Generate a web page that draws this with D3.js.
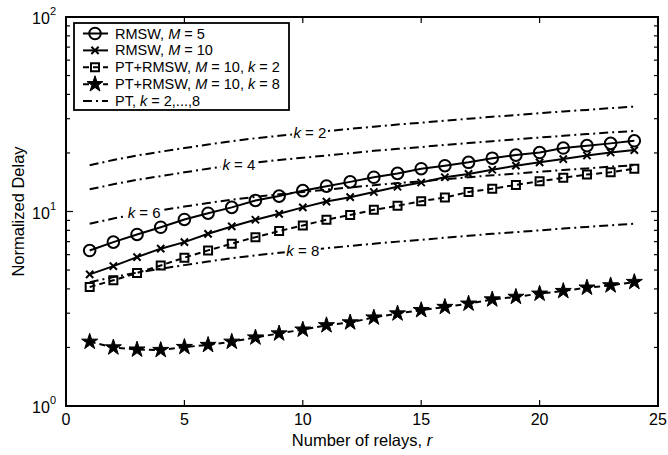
<!DOCTYPE html>
<html>
<head>
<meta charset="utf-8">
<script src="https://cdn.jsdelivr.net/npm/d3@7"></script>
<style>
  body { margin: 0; background: #fff; }
  svg text { font-family: "Liberation Sans", Arial, Helvetica, sans-serif; fill: #000; }
</style>
</head>
<body>
<div id="chart"></div>
<script>
// Data
const relays = d3.range(1, 25);
const rmswM5 = [6.3, 6.96, 7.62, 8.3, 9.1, 9.8, 10.5, 11.4, 12.0, 12.8, 13.5, 14.2,
                15.0, 15.7, 16.6, 17.2, 17.9, 18.8, 19.5, 20.1, 21.2, 21.8, 22.4, 23.1];
const rmswM10 = [4.75, 5.24, 5.83, 6.44, 6.96, 7.68, 8.38, 9.07, 9.73, 10.5, 11.25, 11.85,
                 12.6, 13.4, 14.1, 15.0, 15.6, 16.4, 17.2, 17.9, 18.6, 19.4, 20.1, 20.7];
const ptRmswK2 = [4.09, 4.43, 4.83, 5.28, 5.79, 6.31, 6.83, 7.38, 7.93, 8.48, 9.07, 9.6,
                  10.2, 10.7, 11.3, 11.8, 12.6, 13.1, 13.7, 14.3, 14.9, 15.5, 15.9, 16.6];
const ptRmswK8 = [2.14, 2.0, 1.95, 1.94, 2.01, 2.06, 2.14, 2.25, 2.36, 2.47, 2.6, 2.69,
                  2.85, 2.99, 3.11, 3.23, 3.36, 3.53, 3.64, 3.78, 3.9, 4.06, 4.17, 4.34];
const ptK2 = [17.3, 18.4, 19.4, 20.3, 21.2, 22.1, 23.0, 23.8, 24.5, 25.2, 25.9, 26.6,
              27.3, 28.0, 28.6, 29.3, 30.0, 30.7, 31.3, 32.0, 32.7, 33.3, 34.0, 34.6];
const ptK4 = [13.0, 13.8, 14.55, 15.2, 15.9, 16.6, 17.25, 17.85, 18.4, 18.9, 19.4, 19.95,
              20.5, 21.0, 21.45, 22.0, 22.5, 23.0, 23.5, 24.0, 24.5, 25.0, 25.5, 25.95];
const ptK6 = [8.65, 9.2, 9.7, 10.15, 10.6, 11.05, 11.5, 11.9, 12.25, 12.6, 12.95, 13.3,
              13.65, 14.0, 14.3, 14.65, 15.0, 15.35, 15.65, 16.0, 16.35, 16.65, 17.0, 17.3];
const ptK8 = [4.33, 4.6, 4.85, 5.08, 5.3, 5.53, 5.75, 5.95, 6.13, 6.3, 6.48, 6.65,
              6.83, 7.0, 7.15, 7.33, 7.5, 7.68, 7.83, 8.0, 8.18, 8.33, 8.5, 8.65];

// where the "k = .." labels sit on the PT curves (relay number)
const ptLabels = [
  { k: 2, r: 10.3, values: ptK2 },
  { k: 4, r: 7.3, values: ptK4 },
  { k: 6, r: 3.3, values: ptK6 },
  { k: 8, r: 10.0, values: ptK8 }
];

const xTicks = [0, 5, 10, 15, 20, 25];
const yDecades = [0, 1, 2];

// Plot box
const box = { left: 66, right: 658, top: 17, bottom: 406 };

const svg = d3.select('#chart')
  .append('svg')
  .attr('width', 668)
  .attr('height', 455);

const x = d3.scaleLinear().domain([0, 25]).range([box.left, box.right]);
const y = d3.scaleLog().domain([1, 100]).range([box.bottom, box.top]);

// Ticks (inside, on all four sides)
const tickG = svg.append('g').attr('stroke', '#000').attr('stroke-width', 1.2);
xTicks.forEach(t => {
  tickG.append('line').attr('x1', x(t)).attr('x2', x(t)).attr('y1', box.bottom).attr('y2', box.bottom - 6);
  tickG.append('line').attr('x1', x(t)).attr('x2', x(t)).attr('y1', box.top).attr('y2', box.top + 6);
});
const minorY = [];
[1, 10].forEach(d => d3.range(2, 10).forEach(m => minorY.push(d * m)));
minorY.forEach(v => {
  tickG.append('line').attr('x1', box.left).attr('x2', box.left + 4).attr('y1', y(v)).attr('y2', y(v));
  tickG.append('line').attr('x1', box.right).attr('x2', box.right - 4).attr('y1', y(v)).attr('y2', y(v));
});
yDecades.forEach(e => {
  const v = Math.pow(10, e);
  tickG.append('line').attr('x1', box.left).attr('x2', box.left + 7).attr('y1', y(v)).attr('y2', y(v));
  tickG.append('line').attr('x1', box.right).attr('x2', box.right - 7).attr('y1', y(v)).attr('y2', y(v));
});

// Tick labels
svg.append('g').selectAll('text')
  .data(xTicks)
  .enter().append('text')
  .attr('x', d => x(d))
  .attr('y', box.bottom + 19)
  .attr('text-anchor', 'middle')
  .attr('font-size', 16)
  .text(d => d);

yDecades.forEach(e => {
  const t = svg.append('text')
    .attr('x', box.left - 10)
    .attr('y', y(Math.pow(10, e)) + 7)
    .attr('text-anchor', 'end')
    .attr('font-size', 16);
  t.append('tspan').text('10');
  t.append('tspan').attr('font-size', 11).attr('dy', -9).text(e);
});

// Axis titles
const xt = svg.append('text')
  .attr('x', (box.left + box.right) / 2)
  .attr('y', 446)
  .attr('text-anchor', 'middle')
  .attr('font-size', 16.5);
xt.append('tspan').text('Number of relays,  ');
xt.append('tspan').attr('font-style', 'italic').text('r');

svg.append('text')
  .attr('transform', `translate(24,${(box.top + box.bottom) / 2}) rotate(-90)`)
  .attr('text-anchor', 'middle')
  .attr('font-size', 16.5)
  .text('Normalized Delay');

const line = vals => d3.line()
  .x((d, i) => x(relays[i]))
  .y(d => y(d))(vals);

// PT dash-dot curves
const dashDot = '9,4,2,4';
[ptK2, ptK4, ptK6, ptK8].forEach(vals => {
  svg.append('path')
    .attr('d', line(vals))
    .attr('fill', 'none')
    .attr('stroke', '#000')
    .attr('stroke-width', 2)
    .attr('stroke-dasharray', dashDot);
});

// k labels with white background, placed on the curves
ptLabels.forEach(l => {
  const i = Math.floor(l.r) - 1;
  const f = l.r - Math.floor(l.r);
  const v = Math.exp(Math.log(l.values[i]) * (1 - f) + Math.log(l.values[i + 1]) * f);
  const g = svg.append('g').attr('transform', `translate(${x(l.r)},${y(v)})`);
  g.append('rect').attr('x', -18).attr('y', -8).attr('width', 36).attr('height', 16).attr('fill', '#fff');
  const t = g.append('text').attr('text-anchor', 'middle').attr('y', 5).attr('font-size', 15);
  t.append('tspan').attr('font-style', 'italic').text('k');
  t.append('tspan').text(' = ' + l.k);
});

// Marker generators
const sym = (type, size) => d3.symbol().type(type).size(size)();

const series = [
  { vals: rmswM5, dash: null, marker: 'circle' },
  { vals: rmswM10, dash: null, marker: 'cross' },
  { vals: ptRmswK2, dash: '6,4', marker: 'square' },
  { vals: ptRmswK8, dash: '6,4', marker: 'star' }
];

function drawMarker(g, type) {
  if (type === 'circle') {
    g.append('circle').attr('r', 5.8).attr('fill', 'none').attr('stroke', '#000').attr('stroke-width', 2);
  } else if (type === 'cross') {
    g.append('path').attr('d', sym(d3.symbolTimes, 36)).attr('fill', 'none').attr('stroke', '#000').attr('stroke-width', 2);
  } else if (type === 'square') {
    g.append('path').attr('d', sym(d3.symbolSquare, 64)).attr('fill', 'none').attr('stroke', '#000').attr('stroke-width', 2);
  } else if (type === 'star') {
    g.append('path').attr('d', sym(d3.symbolStar, 80)).attr('fill', '#000').attr('stroke', '#000').attr('stroke-width', 1);
  }
}

series.forEach(s => {
  svg.append('path')
    .attr('d', line(s.vals))
    .attr('fill', 'none')
    .attr('stroke', '#000')
    .attr('stroke-width', 2)
    .attr('stroke-dasharray', s.dash);
  s.vals.forEach((v, i) => {
    const g = svg.append('g').attr('transform', `translate(${x(relays[i])},${y(v)})`);
    drawMarker(g, s.marker);
  });
});

// Plot frame
svg.append('rect')
  .attr('x', box.left).attr('y', box.top)
  .attr('width', box.right - box.left).attr('height', box.bottom - box.top)
  .attr('fill', 'none').attr('stroke', '#000').attr('stroke-width', 2);

// Legend
const legendItems = [
  { marker: 'circle', dash: null, label: [['RMSW, ', 0], ['M', 1], [' = 5', 0]] },
  { marker: 'cross', dash: null, label: [['RMSW, ', 0], ['M', 1], [' = 10', 0]] },
  { marker: 'square', dash: '6,4', label: [['PT+RMSW, ', 0], ['M', 1], [' = 10, ', 0], ['k', 1], [' = 2', 0]] },
  { marker: 'star', dash: '6,4', label: [['PT+RMSW, ', 0], ['M', 1], [' = 10, ', 0], ['k', 1], [' = 8', 0]] },
  { marker: null, dash: dashDot, label: [['PT, ', 0], ['k', 1], [' = 2,...,8', 0]] }
];
const lg = svg.append('g');
lg.append('rect')
  .attr('x', 74).attr('y', 23).attr('width', 215).attr('height', 87)
  .attr('fill', '#fff').attr('stroke', '#000').attr('stroke-width', 1.8);
legendItems.forEach((it, i) => {
  const yy = 33.5 + i * 16.9;
  lg.append('line')
    .attr('x1', 83).attr('x2', 108).attr('y1', yy).attr('y2', yy)
    .attr('stroke', '#000').attr('stroke-width', 2)
    .attr('stroke-dasharray', it.dash);
  if (it.marker) {
    const g = lg.append('g').attr('transform', `translate(95,${yy})`);
    drawMarker(g, it.marker);
  }
  const t = lg.append('text').attr('x', 115).attr('y', yy + 5).attr('font-size', 14.5);
  it.label.forEach(p => t.append('tspan').attr('font-style', p[1] ? 'italic' : 'normal').text(p[0]));
});
</script>
</body>
</html>
